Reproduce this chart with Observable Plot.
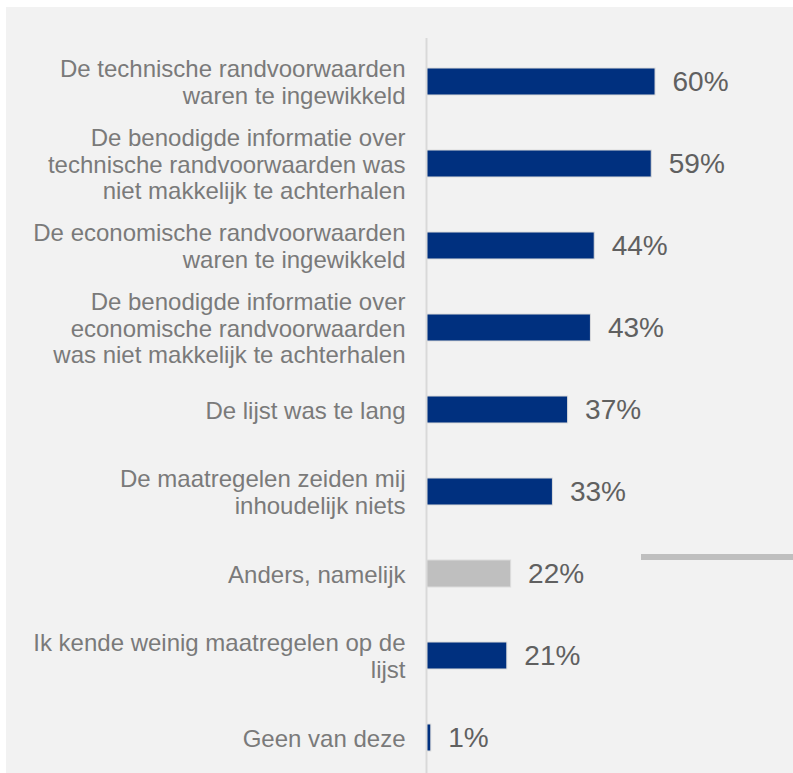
<!DOCTYPE html>
<html>
<head>
<meta charset="utf-8">
<script src="https://cdn.jsdelivr.net/npm/d3@7"></script>
<script src="https://cdn.jsdelivr.net/npm/@observablehq/plot@0.6"></script>
<style>
  body { margin: 0; background: #ffffff; width: 793px; height: 773px; overflow: hidden; position: relative; }
  #wrap { position: absolute; left: 6px; top: 7px; width: 787px; height: 766px; background: #f2f2f2; }
  #deco { position: absolute; left: 641px; top: 554px; width: 152px; height: 6px; background: #bfbfbf; }
</style>
</head>
<body>
<div id="wrap"></div>
<div id="deco"></div>
<script>
const categories = [
  "De technische randvoorwaarden\nwaren te ingewikkeld",
  "De benodigde informatie over\ntechnische randvoorwaarden was\nniet makkelijk te achterhalen",
  "De economische randvoorwaarden\nwaren te ingewikkeld",
  "De benodigde informatie over\neconomische randvoorwaarden\nwas niet makkelijk te achterhalen",
  "De lijst was te lang",
  "De maatregelen zeiden mij\ninhoudelijk niets",
  "Anders, namelijk",
  "Ik kende weinig maatregelen op de\nlijst",
  "Geen van deze"
];
const values = [60, 59, 44, 43, 37, 33, 22, 21, 1];
const highlightOther = "Anders, namelijk";

const data = categories.map((c, i) => ({cat: c, value: values[i]}));

const chart = Plot.plot({
  width: 787,
  height: 766,
  marginLeft: 421,
  marginRight: 0,
  marginTop: 31,
  marginBottom: 0,
  style: {background: "transparent", fontFamily: "'Liberation Sans', Arial, sans-serif"},
  x: {domain: [0, 96.3], axis: null},
  y: {domain: categories, range: [31, 774], paddingInner: 0.666, paddingOuter: 0.343, axis: null},
  color: {type: "identity"},
  marks: [
    Plot.ruleX([0], {stroke: "#d9d9d9", strokeWidth: 2, dx: -1}),
    Plot.barX(data, {
      x: "value", y: "cat",
      fill: d => d.cat === highlightOther ? "#bfbfbf" : "#00307f",
      stroke: "#dcdcdc", strokeWidth: 1
    }),
    Plot.text(data, {
      x: "value", y: "cat", text: d => d.value + "%",
      textAnchor: "start", dx: 17, fontSize: 28, fill: "#606060"
    }),
    Plot.text(data, {
      y: "cat", frameAnchor: "left", text: "cat",
      textAnchor: "end", dx: -22, fontSize: 24, lineHeight: 1.11, fill: "#7a7a7a"
    })
  ]
});
document.getElementById("wrap").appendChild(chart);
</script>
</body>
</html>
